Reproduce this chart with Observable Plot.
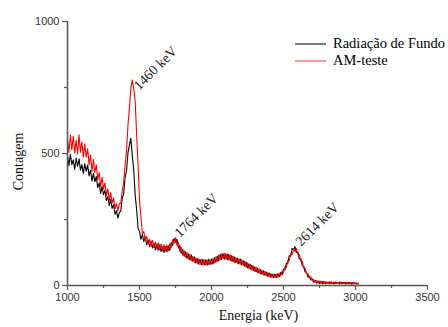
<!DOCTYPE html>
<html>
<head>
<meta charset="utf-8">
<script src="https://cdn.jsdelivr.net/npm/d3@7"></script>
<script src="https://cdn.jsdelivr.net/npm/@observablehq/plot@0.6"></script>
<style>
  html, body { margin: 0; padding: 0; background: #fff; }
  #wrap { position: relative; width: 448px; height: 327px; overflow: hidden; }
  #wrap svg { position: absolute; left: 0; top: 0; }
  .leg { position: absolute; font-family: "Liberation Serif", "Times New Roman", serif; font-size: 14.5px; color: #000; white-space: nowrap; line-height: 1; }
  .legline { position: absolute; height: 1.5px; }
</style>
</head>
<body>
<div id="wrap"></div>
<script>
// Energy channels: start and step (keV)
const energyStart = 1000;
const energyStep = 10;

const seriesNames = ["Radiação de Fundo", "AM-teste"];
const seriesColors = ["#000000", "#ff0000"];

// Radiação de Fundo (black), counts per channel from 1000 to 3020 keV
const fundo = [
  493,454,497,458,476,440,483,451,480,437,
  458,425,461,433,456,415,436,395,424,393,
  413,371,388,349,375,344,361,322,337,302,
  326,292,306,270,283,255,276,282,330,347,
  410,435,503,532,558,490,438,342,288,217,
  205,175,194,166,184,155,172,147,168,142,
  159,135,156,134,154,128,147,125,147,127,
  150,133,162,152,178,164,175,142,151,122,
  136,111,128,103,119,97,115,92,108,86,
  103,81,99,79,99,78,97,77,99,80,
  100,82,105,88,111,93,118,99,121,100,
  120,98,117,95,113,90,108,87,104,82,
  100,78,94,73,89,67,82,61,76,57,
  70,52,65,47,60,43,56,39,51,35,
  47,32,44,30,43,30,44,33,49,41,
  62,59,85,84,113,112,140,136,147,125,
  127,101,102,75,74,51,51,32,35,21,
  25,13,19,9,17,7,16,7,15,
  7,13,8,14,7,12,6,13,8,11,6,13,7,12,6,11,7,12,5,11,6,10,5,9
];

// AM-teste (red), counts per channel from 1000 to 3020 keV
const amTeste = [
  555,504,570,514,565,502,550,498,571,504,
  543,486,537,486,518,457,494,432,478,428,
  456,401,428,375,410,366,388,341,366,322,
  352,312,332,291,310,283,310,310,360,387,
  460,510,608,672,748,778,745,698,572,458,
  322,260,197,204,172,186,155,176,148,171,
  144,165,138,162,135,157,131,155,130,153,
  131,158,143,174,159,181,153,163,130,144,
  115,132,107,125,100,118,94,111,88,105,
  83,101,80,99,78,97,77,97,79,99,
  81,103,85,108,91,115,97,120,101,121,
  100,120,97,116,92,111,88,106,84,102,
  80,98,76,92,69,86,64,80,58,74,
  53,69,49,64,44,58,40,54,37,50,
  33,45,30,43,30,43,31,46,36,54,
  48,70,68,94,93,121,117,138,129,140,
  116,117,92,91,66,66,45,45,29,32,
  18,23,12,19,9,17,8,16,7,
  14,8,13,7,14,9,13,7,12,8,14,7,12,8,13,6,12,7,11,6,11,7,10,6
];

const xMajor = [1000, 1500, 2000, 2500, 3000, 3500];
const xMinor = [1250, 1750, 2250, 2750, 3250];
const yMajor = [0, 500, 1000];
const yMinor = [250, 750];

const peakLabels = ["1460 keV", "1764 keV", "2614 keV"];
const peakX = [1498, 1782, 2622];
const peakY = [738, 180, 146];

const toRows = (arr, name) => arr.map((v, i) => ({ energia: energyStart + i * energyStep, contagem: v, serie: name }));
const rowsFundo = toRows(fundo, seriesNames[0]);
const rowsAm = toRows(amTeste, seriesNames[1]);
const peaks = peakLabels.map((t, i) => ({ t, x: peakX[i], y: peakY[i] }));

const axisColor = "#555";
const chart = Plot.plot({
  width: 448,
  height: 327,
  marginLeft: 67,
  marginRight: 21,
  marginTop: 21,
  marginBottom: 42,
  style: { fontFamily: "'Liberation Sans', Arial, sans-serif", fontSize: "11px", color: "#333", background: "#fff", overflow: "visible" },
  x: { domain: [1000, 3500] },
  y: { domain: [0, 1000] },
  marks: [
    Plot.line(rowsFundo, { x: "energia", y: "contagem", stroke: seriesColors[0], strokeWidth: 1.1 }),
    Plot.line(rowsAm, { x: "energia", y: "contagem", stroke: seriesColors[1], strokeWidth: 1.1 }),
    Plot.axisX({ ticks: xMajor, tickFormat: d => String(d), tickSize: 5, tickPadding: 3, stroke: axisColor, strokeWidth: 1.2, label: null, fill: "#333" }),
    Plot.axisX({ ticks: xMinor, tickSize: 3, text: null, stroke: axisColor, strokeWidth: 1.2, label: null }),
    Plot.axisY({ ticks: yMajor, tickFormat: d => String(d), tickSize: 5, tickPadding: 3, stroke: axisColor, strokeWidth: 1.2, label: null, fill: "#333" }),
    Plot.axisY({ ticks: yMinor, tickSize: 3, text: null, stroke: axisColor, strokeWidth: 1.2, label: null }),
    Plot.ruleY([0], { stroke: axisColor, strokeWidth: 1.5 }),
    Plot.ruleX([1000], { stroke: axisColor, strokeWidth: 1.5 }),
    Plot.text(peaks, { x: "x", y: "y", text: "t", rotate: -45, textAnchor: "start", lineAnchor: "bottom",
      fontFamily: "'Liberation Serif', 'Times New Roman', serif", fontSize: 14, fill: "#222" }),
    Plot.text(["Contagem"], { frameAnchor: "left", dx: -49, dy: 8, rotate: -90, textAnchor: "middle",
      fontFamily: "'Liberation Serif', 'Times New Roman', serif", fontSize: 14, fill: "#111" }),
    Plot.text(["Energia (keV)"], { frameAnchor: "bottom", dx: 11, dy: 34, textAnchor: "middle",
      fontFamily: "'Liberation Serif', 'Times New Roman', serif", fontSize: 14, fill: "#111" })
  ]
});

const wrap = document.getElementById("wrap");
wrap.appendChild(chart);

// Legend (HTML, over the plot area)
const legendY = [44, 61];
const legendLineColors = ["#7a7a7a", "#ff9a9a"];
seriesNames.forEach((name, i) => {
  const ln = document.createElement("div");
  ln.className = "legline";
  ln.style.left = "295px";
  ln.style.top = (legendY[i] - 0.75) + "px";
  ln.style.width = "31px";
  ln.style.background = legendLineColors[i];
  wrap.appendChild(ln);
  const tx = document.createElement("div");
  tx.className = "leg";
  tx.style.left = "333px";
  tx.style.top = (legendY[i] - 8) + "px";
  tx.textContent = name;
  wrap.appendChild(tx);
});
</script>
</body>
</html>
